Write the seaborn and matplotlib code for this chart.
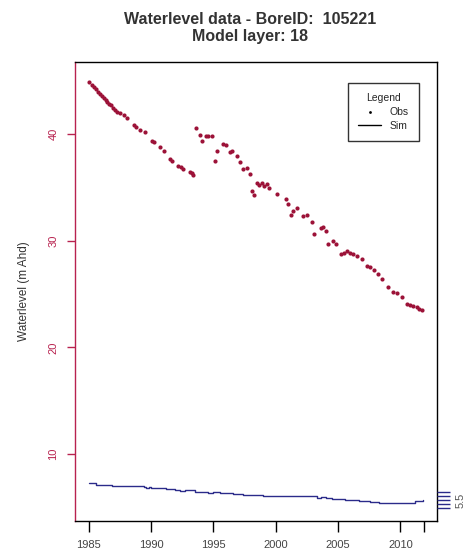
"""Observed vs simulated water level for one bore."""

import pandas as pd
import seaborn as sns
import matplotlib.pyplot as plt

# Observed water levels (m AHD)
obs_year = [1985.0, 1985.3, 1985.45, 1985.6, 1985.75, 1985.9, 1986.05, 1986.2, 1986.35,
            1986.5, 1986.65, 1986.8, 1986.95, 1987.1, 1987.3, 1987.5, 1987.8, 1988.05,
            1988.6, 1988.8, 1989.1, 1989.5, 1990.05, 1990.2, 1990.7, 1991.0, 1991.5,
            1991.7, 1992.2, 1992.4, 1992.6, 1993.1, 1993.25, 1993.4,
            1993.6, 1993.9, 1994.05, 1994.4, 1994.6, 1994.9, 1995.15, 1995.3, 1995.8,
            1996.0, 1996.3, 1996.5, 1996.9, 1997.1, 1997.4, 1997.7, 1997.9, 1998.1,
            1998.25, 1998.5, 1998.7, 1998.9, 1999.1, 1999.3, 1999.5, 2000.1, 2000.8,
            2000.95, 2001.2, 2001.35, 2001.7, 2002.2, 2002.5, 2002.9, 2003.1, 2003.6,
            2003.8, 2004.0, 2004.2, 2004.6, 2004.8, 2005.2, 2005.45, 2005.7, 2005.95,
            2006.2, 2006.5, 2006.9, 2007.3, 2007.6, 2007.9, 2008.2, 2008.5, 2009.0,
            2009.4, 2009.7, 2010.1, 2010.5, 2010.8, 2011.0, 2011.3, 2011.5, 2011.75]
obs_level = [44.9, 44.6, 44.4, 44.2, 44.0, 43.8, 43.6, 43.4, 43.2,
             43.0, 42.8, 42.7, 42.5, 42.3, 42.1, 42.0, 41.8, 41.5,
             40.9, 40.7, 40.4, 40.2, 39.4, 39.3, 38.8, 38.4, 37.7,
             37.5, 37.0, 36.9, 36.7, 36.5, 36.35, 36.2,
             40.6, 39.9, 39.4, 39.8, 39.8, 39.8, 37.5, 38.4, 39.1,
             39.0, 38.3, 38.4, 38.0, 37.4, 36.7, 36.8, 36.3, 34.7,
             34.3, 35.4, 35.2, 35.4, 35.1, 35.3, 35.0, 34.4, 33.9,
             33.5, 32.4, 32.8, 33.1, 32.3, 32.4, 31.8, 30.6, 31.2,
             31.3, 30.9, 29.7, 30.0, 29.7, 28.8, 28.9, 29.0, 28.9,
             28.8, 28.6, 28.3, 27.6, 27.5, 27.3, 26.9, 26.4, 25.7,
             25.2, 25.1, 24.7, 24.1, 24.0, 23.9, 23.8, 23.6, 23.5]

# Simulated water levels (m AHD)
sim_year = [1985.0, 1985.6, 1986.9, 1989.4, 1989.6, 1989.8, 1990.0, 1991.2, 1991.9,
            1992.3, 1992.7, 1993.5, 1994.6, 1995.0, 1995.5, 1996.6, 1997.4, 1998.4,
            1998.8, 1999.0, 2002.6, 2003.3, 2003.6, 2004.0, 2004.5, 2005.6, 2006.7,
            2007.3, 2007.6, 2008.3, 2010.6, 2011.2, 2011.85]
sim_level = [7.25, 7.12, 7.0, 6.92, 6.82, 6.9, 6.85, 6.72, 6.65,
             6.58, 6.62, 6.48, 6.38, 6.45, 6.32, 6.28, 6.2, 6.12,
             6.18, 6.08, 6.06, 5.88, 5.95, 5.92, 5.8, 5.68, 5.58,
             5.62, 5.52, 5.43, 5.45, 5.58, 5.65]

x_ticks = [1985, 1990, 1995, 2000, 2005, 2010, 2011.9]
x_labels = ["1985", "1990", "1995", "2000", "2005", "2010", ""]
y_ticks = [10, 20, 30, 40]
right_ticks = [5.3, 5.4, 5.5, 5.6, 5.7]
right_labels = ["", "", "5.5", "", ""]

obs_df = pd.DataFrame({"year": obs_year, "level": obs_level})
sim_df = pd.DataFrame({"year": sim_year, "level": sim_level})

sns.set_theme(style="ticks")
plt.rcParams["font.family"] = ["Liberation Sans", "DejaVu Sans"]

red = "#b8224f"
blue = "#2b2b8a"

fig = plt.figure(figsize=(4.66, 5.54), dpi=100)
ax = fig.add_axes([0.161, 0.0601, 0.777, 0.8285])

sns.scatterplot(data=obs_df, x="year", y="level", ax=ax, color="#9c1238",
                s=9, linewidth=0, label="Obs", zorder=3)
sns.lineplot(data=sim_df, x="year", y="level", ax=ax, color=blue,
             linewidth=1.0, drawstyle="steps-post", label="Sim")

ax.set_xlim(1983.9, 2012.95)
ax.set_ylim(3.75, 46.8)
ax.set_xticks(x_ticks)
ax.set_xticklabels(x_labels, fontsize=8, color="#444444")
ax.set_yticks(y_ticks)
ax.set_yticklabels([str(v) for v in y_ticks], fontsize=8, color=red,
                   rotation=90, va="center")
ax.tick_params(axis="x", length=8, width=1, color="black", pad=6)
ax.tick_params(axis="y", length=6, width=1, color=red, pad=6)
ax.set_xlabel("")
ax.set_ylabel("Waterlevel (m Ahd)", fontsize=8.5, color="#333333", labelpad=13)

for side in ["top", "right", "bottom"]:
    ax.spines[side].set_visible(True)
    ax.spines[side].set_color("black")
    ax.spines[side].set_linewidth(1.0)
ax.spines["left"].set_color(red)
ax.spines["left"].set_linewidth(1.0)

# right-hand axis for the simulated series
ax2 = ax.twinx()
ax2.set_ylim(4.955, 17.03)
ax2.set_yticks(right_ticks)
ax2.set_yticklabels(right_labels, fontsize=8, color="#555555", rotation=90, va="center")
ax2.tick_params(axis="y", length=9, width=1, color=blue, pad=4)
for side in ["top", "left", "bottom", "right"]:
    ax2.spines[side].set_visible(False)

leg = ax.legend(title="Legend", loc="upper right", bbox_to_anchor=(0.95, 0.954),
                borderaxespad=0, fontsize=7.5, title_fontsize=7.5, frameon=True,
                fancybox=False, edgecolor="black", handlelength=2.2, borderpad=1.0,
                labelspacing=0.35, handletextpad=0.8, markerfirst=True)
leg.get_frame().set_linewidth(1.0)
leg.legend_handles[0].set_sizes([4])
leg.legend_handles[0].set_color("black")
leg.legend_handles[1].set_color("black")

fig.text(0.537, 0.965, "Waterlevel data - BoreID:  105221", ha="center", va="center",
         fontsize=11.5, fontweight="bold", color="#333333")
fig.text(0.537, 0.935, "Model layer: 18", ha="center", va="center",
         fontsize=11.5, fontweight="bold", color="#333333")

fig.savefig("out.png", dpi=100)
